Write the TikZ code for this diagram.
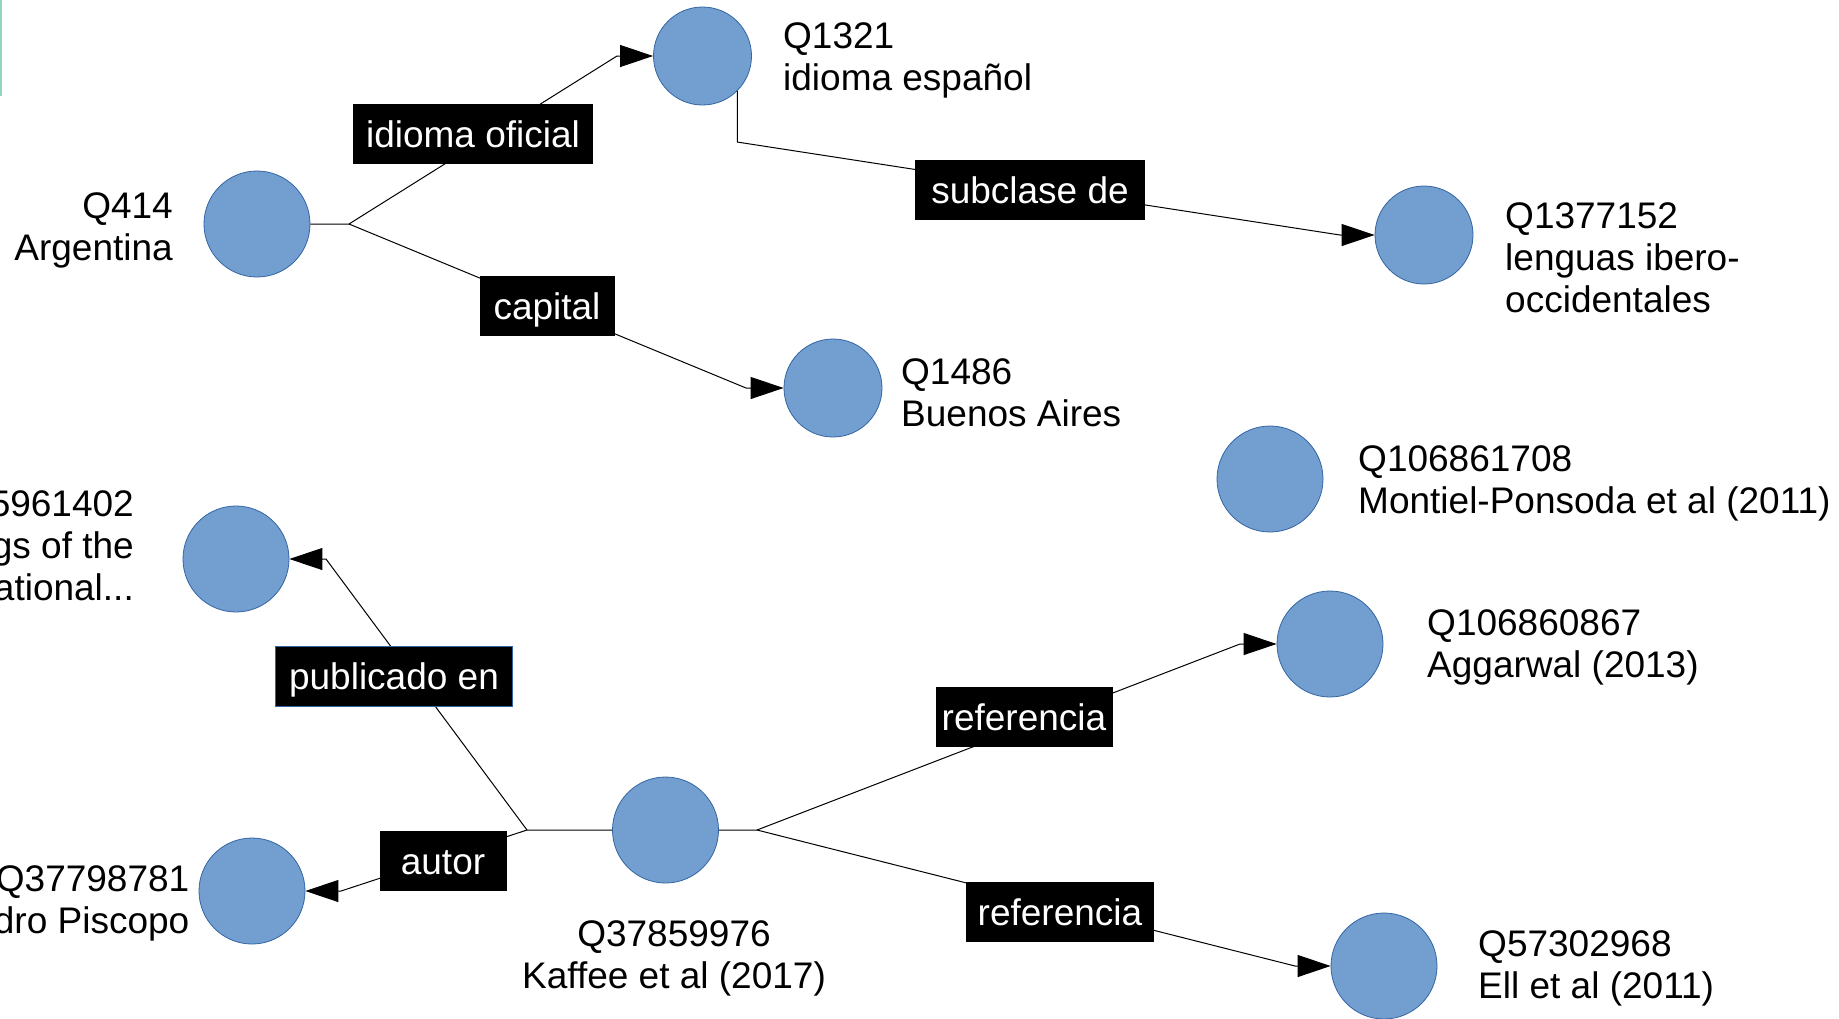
\documentclass[tikz,border=0pt]{standalone}
\usepackage{fontspec}
\setmainfont{Liberation Sans}
\usetikzlibrary{arrows.meta}

\definecolor{entfill}{HTML}{729FCF}
\definecolor{entline}{HTML}{3465A4}
\definecolor{markteal}{HTML}{8FD3C0}

\tikzset{
  ent/.style={circle,fill=entfill,draw=entline,line width=0.8pt,inner sep=0pt,minimum size=106pt},
  entsm/.style={ent,minimum size=98pt},
  txt/.style={font=\fontsize{37}{42}\selectfont,inner sep=0pt},
  rel/.style={fill=black,text=white,font=\fontsize{37}{42}\selectfont,inner sep=0pt,
    text height=34pt,text depth=8pt,minimum height=60pt},
  link/.style={line width=1pt,-{Triangle[length=33pt,width=22pt]}},
  plain/.style={line width=1pt}
}

\begin{document}
\begin{tikzpicture}[x=1pt,y=-1pt]
  \fill[white] (0,0) rectangle (1839,1018);
  \useasboundingbox (0,0) rectangle (1839,1018);
  \fill[markteal] (0,0) rectangle (2,96);

  \node[ent]   (arg)      at (257,224) {};
  \node[entsm] (esp)      at (702.5,56) {};
  \node[entsm] (ibero)    at (1424,235) {};
  \node[entsm] (baires)   at (833,388) {};
  \node[ent]   (montiel)  at (1270,479) {};
  \node[ent]   (aggarwal) at (1330,644) {};
  \node[ent]   (ell)      at (1384,966) {};
  \node[ent]   (kaffee)   at (665.5,830) {};
  \node[ent]   (procs)    at (236,559) {};
  \node[ent]   (piscopo)  at (252,891) {};

  \node[txt,align=right,anchor=base east] (argtxt) at (173,260) {Q414\\Argentina};
  \node[txt,align=left,anchor=base west] (esptxt) at (783,90) {Q1321\\idioma español};
  \node[txt,align=left,anchor=base west] (iberotxt) at (1505,312) {Q1377152\\lenguas ibero-\\occidentales};
  \node[txt,align=left,anchor=base west] (bairestxt) at (901,426) {Q1486\\Buenos Aires};
  \node[txt,align=left,anchor=base west] (montieltxt) at (1358,513) {Q106861708\\Montiel-Ponsoda et al (2011)};
  \node[txt,align=left,anchor=base west] (aggarwaltxt) at (1427,677) {Q106860867\\Aggarwal (2013)};
  \node[txt,align=left,anchor=base west] (elltxt) at (1478,998) {Q57302968\\Ell et al (2011)};
  \node[txt,align=center,anchor=base] (kaffeetxt) at (674,988) {Q37859976\\Kaffee et al (2017)};
  \node[txt,align=right,anchor=base east] (procstxt) at (134,600) {5961402\\gs of the\\ational...};
  \node[txt,align=right,anchor=base east] (piscopotxt) at (189.5,933) {Q37798781\\dro Piscopo};

  \coordinate (b1) at (349,224);
  \coordinate (c1) at (617,56);
  \coordinate (c2) at (746,388);
  \coordinate (c3) at (737,142);
  \coordinate (c4) at (1340,235);
  \coordinate (b2) at (527,830);
  \coordinate (c5) at (326,559);
  \coordinate (c6) at (341,891);
  \coordinate (b3) at (757,830);
  \coordinate (c7) at (1240,644);
  \coordinate (c8) at (1295,966);

  \draw[link] (arg.east) -- (b1) -- (c1) -- (esp.west);
  \draw[link] (b1) -- (c2) -- (baires.west);
  \draw[link] (esp.-45) |- (c3) -- (c4) -- (ibero.west);
  \draw[link] (kaffee.west) -- (b2) -- (c5) -- (procs.east);
  \draw[link] (b2) -- (c6) -- (piscopo.east);
  \draw[link] (kaffee.east) -- (b3) -- (c7) -- (aggarwal.west);
  \draw[link] (b3) -- (c8) -- (ell.west);

  \node[rel,minimum width=240pt] (oficial) at (473,134) {idioma oficial};
  \node[rel,minimum width=230pt] (subclase) at (1030,190) {subclase de};
  \node[rel,minimum width=135pt] (capital) at (547,306) {capital};
  \node[rel,minimum width=237pt,draw=entline,line width=0.8pt] (publicado) at (394,676) {publicado en};
  \node[rel,minimum width=127pt] (autor) at (443,861) {autor};
  \node[rel,minimum width=177pt] (refa) at (1024,717) {referencia};
  \node[rel,minimum width=188pt] (refb) at (1060,912) {referencia};
\end{tikzpicture}
\end{document}
